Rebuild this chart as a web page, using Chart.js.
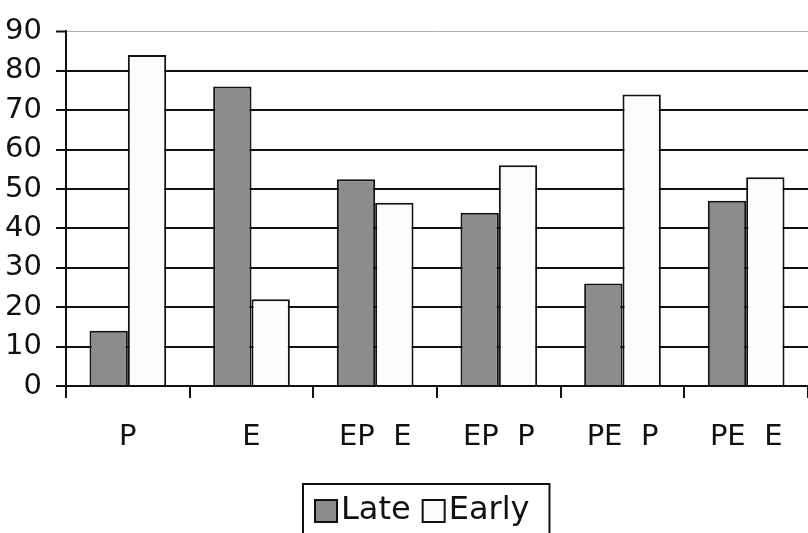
<!DOCTYPE html>
<html>
<head>
<meta charset="utf-8">
<script src="https://cdn.jsdelivr.net/npm/chart.js@4/dist/chart.umd.min.js"></script>
<style>
  html, body { margin: 0; padding: 0; background: #fff; overflow: hidden; }
  #wrap { width: 808px; height: 533px; position: relative; }
</style>
</head>
<body>
<div id="wrap"><canvas id="c" width="808" height="533"></canvas></div>
<script>
const categories = ['P', 'E', 'EP  E', 'EP  P', 'PE  P', 'PE  E'];
const lateValues = [14, 76, 52.5, 44, 26, 47];
const earlyValues = [84, 22, 46.5, 56, 74, 53];
const seriesNames = ['Late', 'Early'];
const yTicks = [0, 10, 20, 30, 40, 50, 60, 70, 80, 90];

const FONT = "'DejaVu Sans', sans-serif";
const LATE_COLOR = '#8c8c8c';
const EARLY_COLOR = '#fcfcfc';

const legendPlugin = {
  id: 'boxLegend',
  afterDraw(chart) {
    const ctx = chart.ctx;
    ctx.save();
    ctx.font = 'normal 32px ' + FONT;
    const sq = 22, gapSqText = 4, gapItems = 12, padL = 12, padR = 20;
    const items = chart.data.datasets.map(d => ({ label: d.label, fill: d.backgroundColor, w: ctx.measureText(d.label).width }));
    let total = padL + padR;
    items.forEach((it, i) => { total += sq + gapSqText + it.w + (i > 0 ? gapItems : 0); });
    const cx = 426;
    const left = Math.round(cx - total / 2);
    const top = 484;
    ctx.lineWidth = 2;
    ctx.strokeStyle = '#111';
    ctx.strokeRect(left, top, total, 80);
    let x = left + padL;
    const midY = 511;
    items.forEach((it, i) => {
      if (i > 0) x += gapItems;
      ctx.fillStyle = it.fill;
      ctx.fillRect(x, midY - sq / 2, sq, sq);
      ctx.lineWidth = 2;
      ctx.strokeRect(x, midY - sq / 2, sq, sq);
      x += sq + gapSqText;
      ctx.fillStyle = '#111';
      ctx.textBaseline = 'middle';
      ctx.textAlign = 'left';
      ctx.fillText(it.label, x, midY);
      x += it.w;
    });
    ctx.restore();
  }
};

new Chart(document.getElementById('c'), {
  type: 'bar',
  data: {
    labels: categories,
    datasets: [
      { label: seriesNames[0], data: lateValues, backgroundColor: LATE_COLOR, borderColor: '#111', borderWidth: 2, borderSkipped: 'bottom' },
      { label: seriesNames[1], data: earlyValues, backgroundColor: EARLY_COLOR, borderColor: '#111', borderWidth: 2, borderSkipped: 'bottom' }
    ]
  },
  options: {
    responsive: false,
    animation: false,
    devicePixelRatio: 1,
    layout: { padding: { left: 0, right: 0, top: 25, bottom: 0 } },
    plugins: { legend: { display: false }, tooltip: { enabled: false } },
    datasets: { bar: { categoryPercentage: 0.62, barPercentage: 1.0 } },
    scales: {
      x: {
        afterFit(scale) { scale.height = 533 - 25 - 361; },
        grid: { display: true, drawOnChartArea: false, offset: true, color: '#111', lineWidth: 2, tickLength: 12 },
        border: { display: true, color: '#111', width: 2 },
        ticks: { color: '#111', font: { family: FONT, size: 29, weight: 'normal' }, padding: 22, maxRotation: 0, autoSkip: false }
      },
      y: {
        min: 0, max: 90,
        afterFit(scale) { scale.width = 66; },
        afterBuildTicks(scale) { scale.ticks = yTicks.map(v => ({ value: v })); },
        grid: {
          color: c => (c.tick && c.tick.value === 90) ? '#b0b0b0' : '#111',
          lineWidth: c => (c.tick && c.tick.value === 90) ? 1 : 2,
          tickColor: '#111', tickWidth: 2, tickLength: 10
        },
        border: { display: true, color: '#111', width: 2 },
        ticks: { color: '#111', font: { family: FONT, size: 29, weight: 'normal' }, padding: 14 }
      }
    }
  },
  plugins: [legendPlugin]
});
</script>
</body>
</html>
